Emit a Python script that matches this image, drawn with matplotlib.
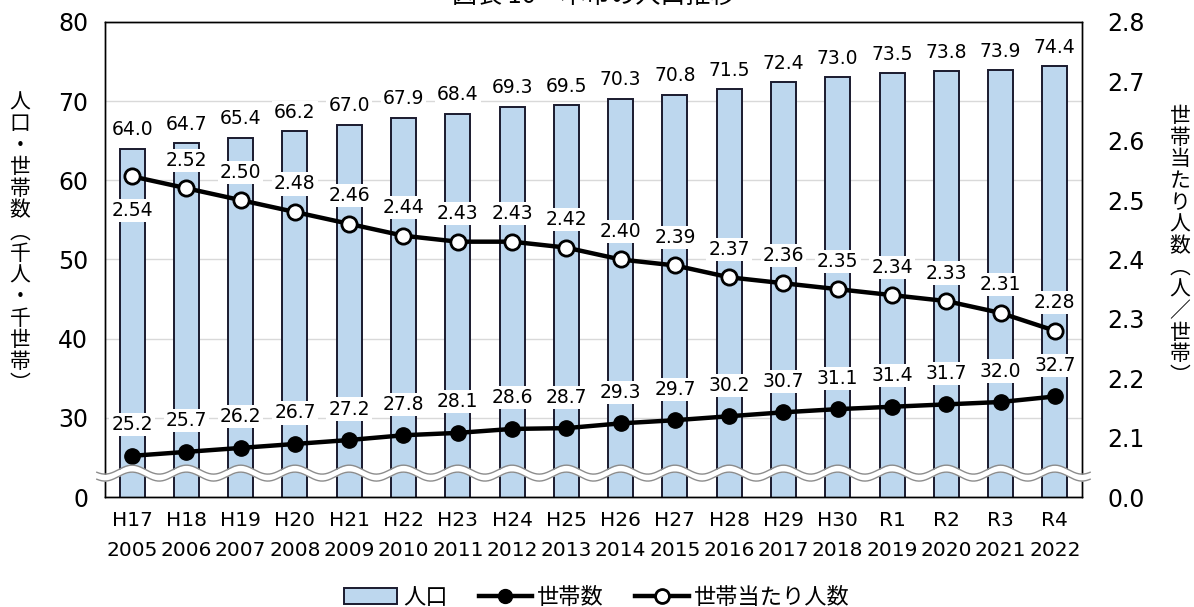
import numpy as np
import matplotlib.pyplot as plt
from matplotlib.lines import Line2D
from matplotlib.patches import Patch
import matplotlib.transforms as mtransforms

plt.rcParams['font.family'] = ['DejaVu Sans', 'Noto Sans CJK JP']

# 人口推移データ
wareki = ["H17", "H18", "H19", "H20", "H21", "H22", "H23", "H24", "H25",
          "H26", "H27", "H28", "H29", "H30", "R1", "R2", "R3", "R4"]
years = ["2005", "2006", "2007", "2008", "2009", "2010", "2011", "2012", "2013",
         "2014", "2015", "2016", "2017", "2018", "2019", "2020", "2021", "2022"]
population = [64.0, 64.7, 65.4, 66.2, 67.0, 67.9, 68.4, 69.3, 69.5,
              70.3, 70.8, 71.5, 72.4, 73.0, 73.5, 73.8, 73.9, 74.4]
households = [25.2, 25.7, 26.2, 26.7, 27.2, 27.8, 28.1, 28.6, 28.7,
              29.3, 29.7, 30.2, 30.7, 31.1, 31.4, 31.7, 32.0, 32.7]
per_household = [2.54, 2.52, 2.50, 2.48, 2.46, 2.44, 2.43, 2.43, 2.42,
                 2.40, 2.39, 2.37, 2.36, 2.35, 2.34, 2.33, 2.31, 2.28]

# 省略軸: 左軸の下端20を「0」、右軸の下端2.0を「0.0」と表示
left_ticks = [20, 30, 40, 50, 60, 70, 80]
left_labels = ["0", "30", "40", "50", "60", "70", "80"]
right_ticks = [2.0, 2.1, 2.2, 2.3, 2.4, 2.5, 2.6, 2.7, 2.8]
right_labels = ["0.0", "2.1", "2.2", "2.3", "2.4", "2.5", "2.6", "2.7", "2.8"]

x = np.arange(len(wareki))

fig = plt.figure(figsize=(11.94, 6.07), dpi=100)
ax = fig.add_axes([0.0879, 0.1812, 0.8183, 0.7826])
ax2 = ax.twinx()

bar_color = "#bdd7ee"
edge = "#1a1a2e"

ax.bar(x, population, width=0.46, color=bar_color, edgecolor=edge,
       linewidth=1.4, zorder=2)
ax.plot(x, households, color="black", lw=3.2, marker="o", ms=11,
        mfc="black", mec="black", zorder=4)

ax.set_xlim(-0.5, len(x) - 0.5)
ax.set_ylim(20, 80)
ax.set_yticks(left_ticks)
ax.set_yticklabels(left_labels, fontsize=17)
ax.tick_params(axis="y", length=0, pad=12)
ax.set_xticks(x)
ax.set_xticklabels([f"{w}\n{y}" for w, y in zip(wareki, years)],
                   fontsize=14.5, linespacing=1.75)
ax.tick_params(axis="x", length=0, pad=10)
ax.grid(axis="y", color="#d9d9d9", lw=1, zorder=0)
ax.set_axisbelow(True)

lbl_box = dict(facecolor="white", edgecolor="none", pad=1.5)
for xi, v in zip(x, population):
    ax.annotate(f"{v:.1f}", (xi, v), xytext=(0, 19), textcoords="offset pixels",
                ha="center", va="center", fontsize=13.5, bbox=lbl_box, zorder=5)
for xi, v in zip(x, households):
    ax.annotate(f"{v:.1f}", (xi, v), xytext=(0, 31), textcoords="offset pixels",
                ha="center", va="center", fontsize=13.5, bbox=lbl_box, zorder=5)

ax2.plot(x, per_household, color="black", lw=3.2, marker="o", ms=11,
         mfc="white", mec="black", mew=2, zorder=4)
ax2.set_ylim(2.0, 2.8)
ax2.set_yticks(right_ticks)
ax2.set_yticklabels(right_labels, fontsize=17)
ax2.tick_params(axis="y", length=0, pad=18)
for i, (xi, v) in enumerate(zip(x, per_household)):
    dy = -34 if i == 0 else 28
    ax2.annotate(f"{v:.2f}", (xi, v), xytext=(0, dy), textcoords="offset pixels",
                 ha="center", va="center", fontsize=13.5, bbox=lbl_box, zorder=5)

for a in (ax, ax2):
    for s in a.spines.values():
        s.set_color("black")
        s.set_linewidth(1.0)

# 軸の省略を示す波線
trans = mtransforms.blended_transform_factory(ax.transData, ax.transAxes)
wx = np.linspace(-0.65, len(x) - 0.35, 800)
yc = 24 / 477
amp = 4.5 / 477
half = 3.5 / 477
wy = yc + amp * np.sin(2 * np.pi * (wx + 0.25))
ax2.fill_between(wx, wy - half, wy + half, color="white", transform=trans,
                 zorder=6, clip_on=False, lw=0)
ax2.plot(wx, wy - half, color="#8c8c8c", lw=1, transform=trans, zorder=7,
         clip_on=False)
ax2.plot(wx, wy + half, color="#8c8c8c", lw=1, transform=trans, zorder=7,
         clip_on=False)

# 縦書きの軸ラベル
left_title = "人口・世帯数︵千人・千世帯︶"
right_title = "世帯当たり人数︵人／世帯︶"
fig.text(20 / 1194, 1 - 243 / 607, "\n".join(left_title), fontsize=15,
         ha="center", va="center", linespacing=0.98,
         family=["Noto Sans CJK JP"])
fig.text(1180 / 1194, 1 - 246 / 607, "\n".join(right_title), fontsize=15,
         ha="center", va="center", linespacing=0.98,
         family=["Noto Sans CJK JP"])

fig.text(0.497, 1.006, "図表 16　本市の人口推移", fontsize=18,
         ha="center", va="center", family=["Noto Sans CJK JP"])

handles = [
    Patch(facecolor=bar_color, edgecolor=edge, linewidth=1.4),
    Line2D([], [], color="black", lw=3.2, marker="o", ms=10, mfc="black"),
    Line2D([], [], color="black", lw=3.2, marker="o", ms=10, mfc="white", mew=2),
]
fig.legend(handles, ["人口", "世帯数", "世帯当たり人数"], loc="center",
           bbox_to_anchor=(0.5, 1 - 597 / 607), ncol=3, frameon=False,
           prop={"family": "Noto Sans CJK JP", "size": 16},
           handlelength=2.4, handletextpad=0.25, columnspacing=1.4)

fig.savefig("out.png", dpi=100)
